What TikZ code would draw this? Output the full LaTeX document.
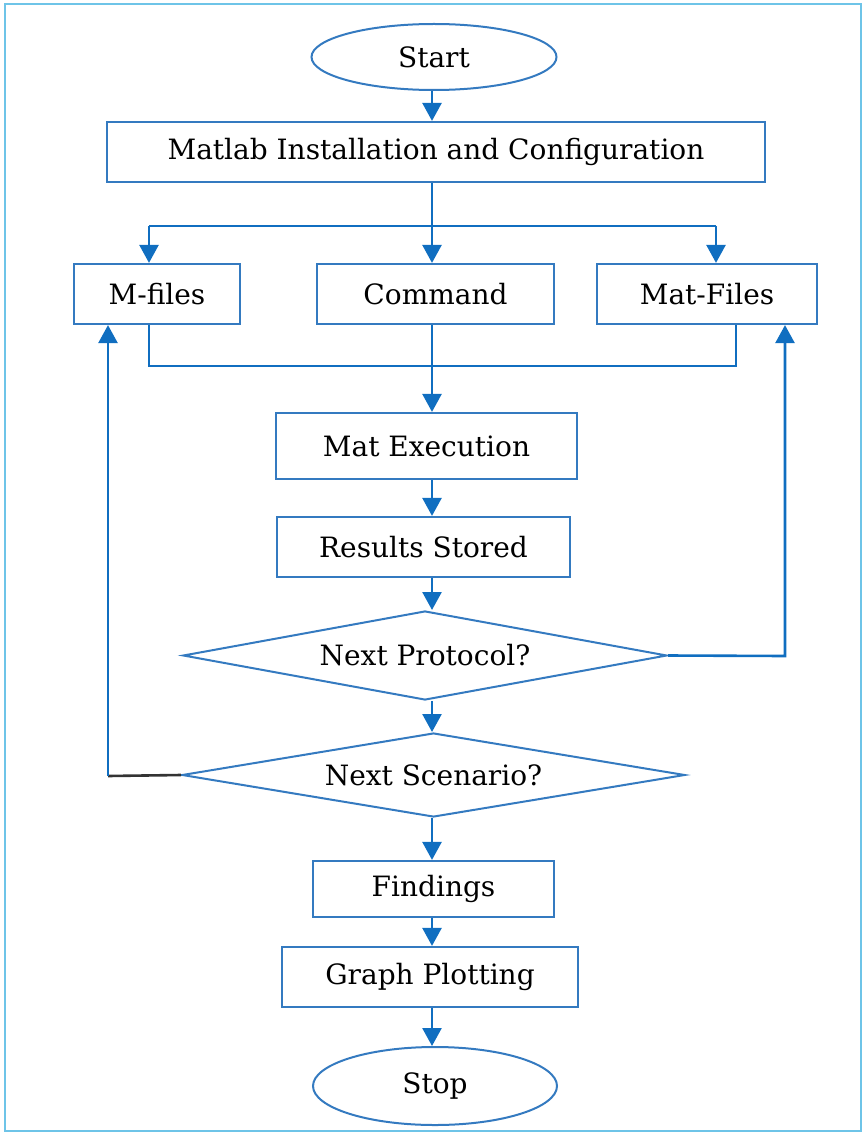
\documentclass[tikz,border=0pt]{standalone}
\usepackage{fontspec}
\setmainfont{DejaVu Serif}
\usetikzlibrary{shapes.geometric,arrows.meta}
\definecolor{boxc}{RGB}{52,122,192}
\definecolor{arrc}{RGB}{16,110,192}
\definecolor{framec}{RGB}{110,196,232}
\tikzset{
  lbl/.style={font=\fontsize{14}{16}\selectfont, text=black, inner sep=0pt},
  procbox/.style={lbl, draw=boxc, line width=1.1pt, rectangle, minimum height=30pt},
  term/.style={lbl, draw=boxc, line width=1pt, ellipse},
  decide/.style={lbl, draw=boxc, line width=1pt, diamond, aspect=5},
  arr/.style={draw=arrc, line width=1.3pt, -{Triangle[length=9pt,width=9.5pt]}},
  ln/.style={draw=arrc, line width=1.3pt, line join=miter}
}
\begin{document}
\begin{tikzpicture}[x=0.5pt,y=-0.5pt]
\useasboundingbox (0,0) rectangle (864,1134);
\draw[framec, line width=1.4pt] (5,4) rectangle (861,1131);
% nodes
\node[term, minimum width=122.5pt, minimum height=33pt] (start) at (434,57) {Start};
\node[procbox, minimum width=329pt] (matlab) at (436,152) {Matlab Installation and Configuration};
\node[procbox, minimum width=83pt] (mfiles) at (157,294) {M-files};
\node[procbox, minimum width=118.5pt] (command) at (435.5,294) {Command};
\node[procbox, minimum width=110pt] (matfiles) at (707,294) {Mat-Files};
\node[procbox, minimum width=150.5pt, minimum height=33pt] (exec) at (426.5,446) {Mat Execution};
\node[procbox, minimum width=146.5pt] (results) at (423.5,547) {Results Stored};
\node[decide, minimum width=242pt, minimum height=44.5pt] (proto) at (425,655.5) {Next Protocol?};
\node[decide, minimum width=251.5pt, minimum height=42pt] (scen) at (433.5,775) {Next Scenario?};
\node[procbox, minimum width=120.5pt, minimum height=28pt] (find) at (433.5,889) {Findings};
\node[procbox, minimum width=148pt] (graph) at (430,977) {Graph Plotting};
\node[term, minimum width=122pt, minimum height=39pt] (stop) at (435,1086) {Stop};
% helper coordinates
\coordinate (col) at (432,0);
\coordinate (bl) at (149,226);
\coordinate (br) at (716,226);
\coordinate (ml) at (149,366);
\coordinate (mr) at (736,366);
\coordinate (rp) at (785,656);
\coordinate (lp) at (108,776);
% main column
\draw[arr] (start.south -| col) -- (matlab.north -| col);
\draw[ln] (matlab.south -| col) -- (col |- bl);
\draw[ln] (bl) -- (br);
\draw[arr] (bl) -- (mfiles.north -| bl);
\draw[arr] (col |- bl) -- (command.north -| col);
\draw[arr] (br) -- (matfiles.north -| br);
\draw[ln] (mfiles.south -| ml) -- (ml) -- (mr) -- (matfiles.south -| mr);
\draw[arr] (command.south -| col) -- (exec.north -| col);
\draw[arr] (exec.south -| col) -- (results.north -| col);
\draw[arr] (results.south -| col) -- (proto.north -| col);
\draw[arr] (proto.south -| col) -- (scen.north -| col);
\draw[arr] (scen.south -| col) -- (find.north -| col);
\draw[arr] (find.south -| col) -- (graph.north -| col);
\draw[arr] (graph.south -| col) -- (stop.north -| col);
% loops
\draw[arr] (proto.east) -- (rp) -- (matfiles.south -| rp);
\draw[black!80, line width=1.3pt] (scen.west) -- (lp);
\draw[arr] (lp) -- (mfiles.south -| lp);
\end{tikzpicture}
\end{document}
